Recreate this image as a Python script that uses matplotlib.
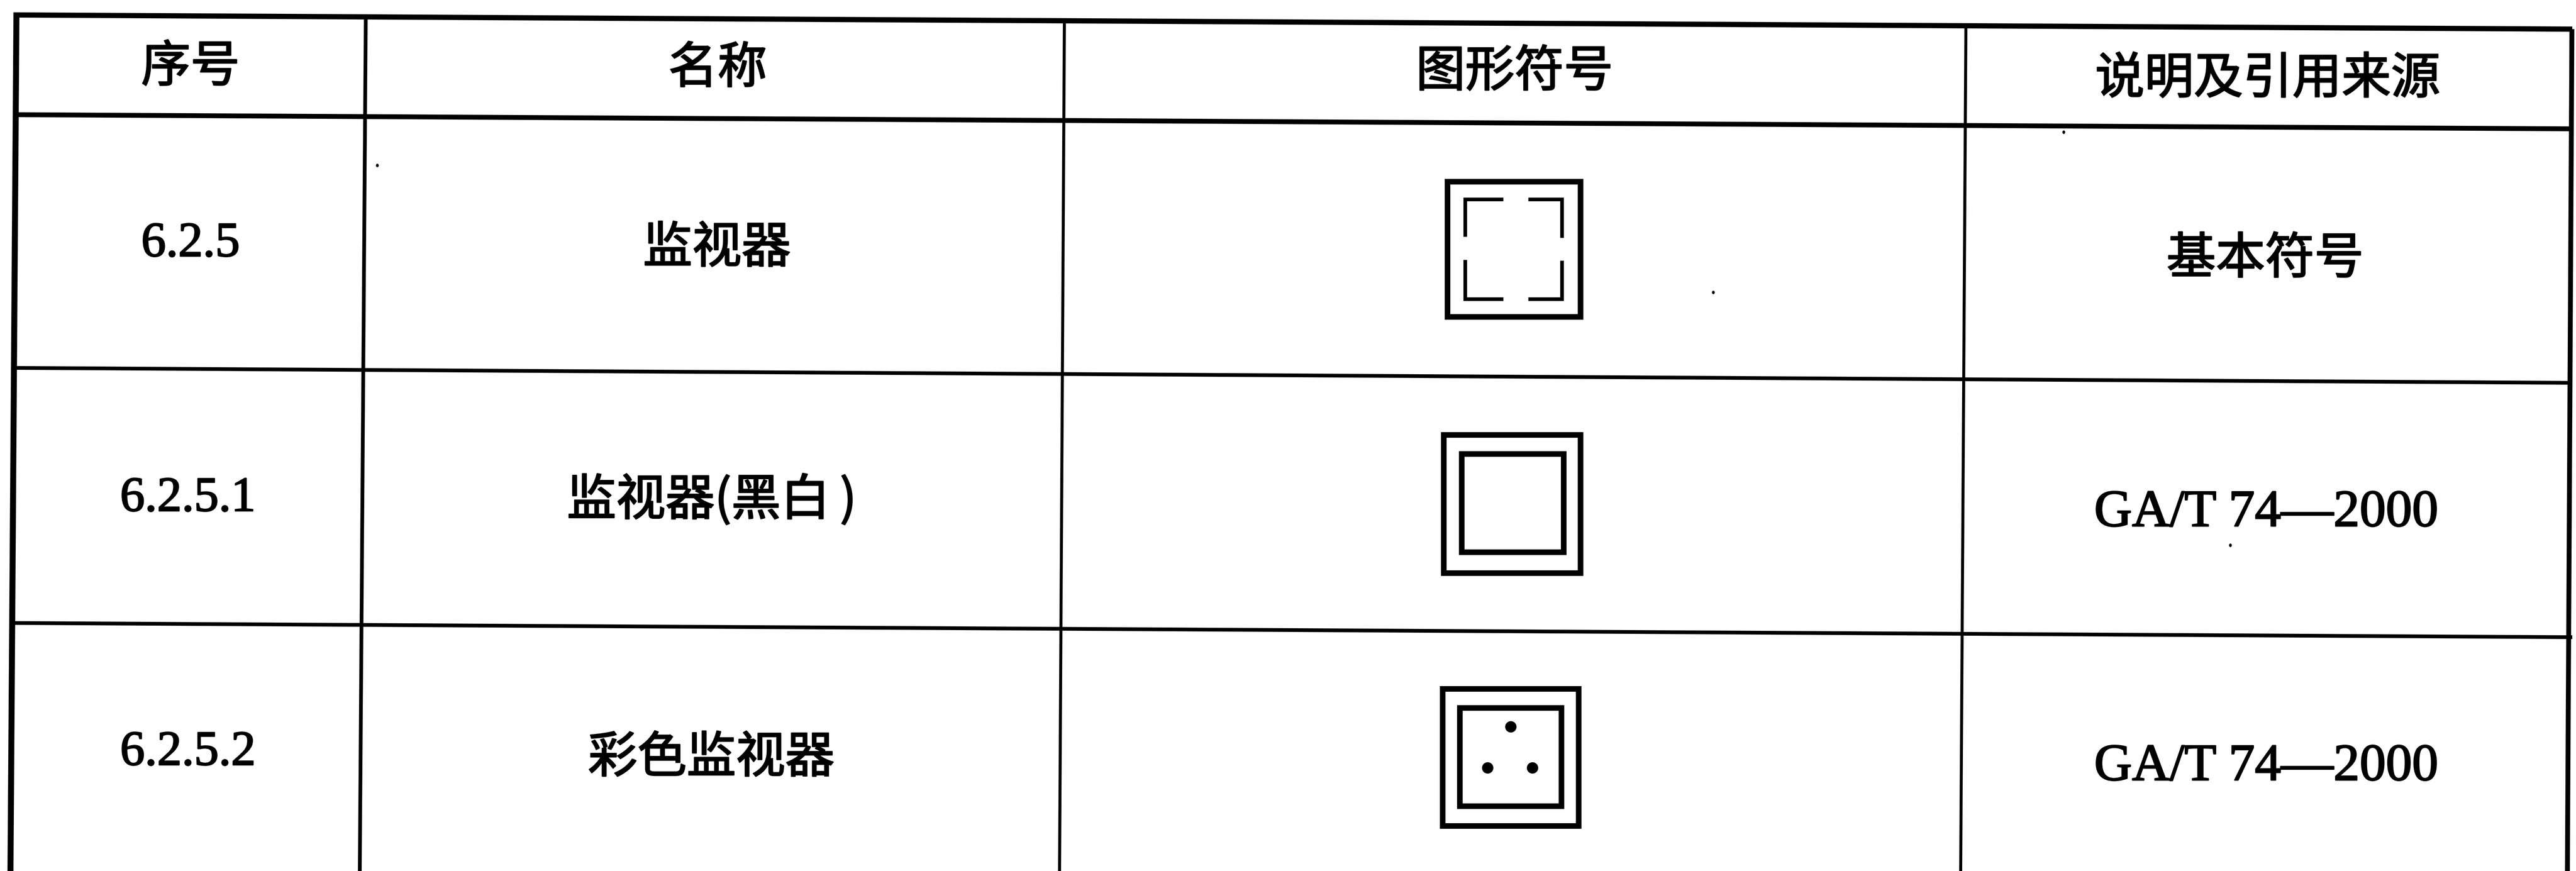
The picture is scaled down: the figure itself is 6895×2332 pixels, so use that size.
import matplotlib
matplotlib.use("Agg")
import matplotlib.patheffects as pe
import matplotlib.pyplot as plt
from matplotlib.patches import Ellipse, Rectangle

WIDTH, HEIGHT = 6895, 2332

CJK = ["Noto Sans CJK SC", "Liberation Serif", "DejaVu Sans"]
SERIF = ["Liberation Serif", "Noto Sans CJK SC"]

headers = ["序号", "名称", "图形符号", "说明及引用来源"]
numbers = ["6.2.5", "6.2.5.1", "6.2.5.2"]
names = ["监视器", "监视器(黑白\u2009)", "彩色监视器"]
sources = ["基本符号", "GA/T 74—2000", "GA/T 74—2000"]

# the scan is slightly rotated so the rules are not quite level
h_rules = [
    ((40, 40), (6885, 78), 14),
    ((40, 307), (6885, 345), 13),
    ((40, 985), (6885, 1025), 10),
    ((40, 1668), (6885, 1706), 10),
]
v_rules = [
    ((44, 33), (28, 2332), 16),
    ((979, 48), (963, 2332), 10),
    ((2849, 60), (2836, 2332), 8),
    ((5262, 70), (5248, 2332), 8),
    ((6884, 78), (6872, 2332), 13),
]

header_xy = [(510, 180), (1921, 184), (4054, 193), (6070, 212)]
number_xy = [(510, 654), (503, 1336), (503, 2016)]
name_xy = [(1919, 665), (1905, 1340), (1904, 2030)]
source_xy = [(6063, 694), (6066, 1375), (6066, 2055)]

specks = [(1010, 443), (4586, 783), (5970, 1460), (5524, 354)]


def box(ax, x0, y0, x1, y1, lw=15):
    ax.add_patch(Rectangle((x0, y0), x1 - x0, y1 - y0, fill=False, ec="black", lw=lw * 0.72, joinstyle="miter"))


def main():
    fig = plt.figure(figsize=(WIDTH / 100, HEIGHT / 100), dpi=100)
    ax = fig.add_axes([0, 0, 1, 1])
    ax.set_xlim(0, WIDTH)
    ax.set_ylim(HEIGHT, 0)
    ax.axis("off")

    for (a, b, lw) in h_rules + v_rules:
        ax.plot([a[0], b[0]], [a[1], b[1]], color="black", lw=lw * 0.72, solid_capstyle="butt")

    # scan makes the print look heavier than the regular weights
    heavy = [pe.withStroke(linewidth=2.5, foreground="black")]

    for text, (x, y) in zip(headers, header_xy):
        ax.text(x, y, text, family=CJK, fontsize=95, ha="center", va="center", path_effects=heavy)
    for text, (x, y) in zip(numbers, number_xy):
        ax.text(x, y, text, family=SERIF, fontsize=95, ha="center", va="center", path_effects=heavy)
    for text, (x, y) in zip(names, name_xy):
        ax.text(x, y, text, family=CJK, fontsize=95, ha="center", va="center", path_effects=heavy)
    for text, (x, y) in zip(sources, source_xy):
        fam = SERIF if text.startswith("GA") else CJK
        size = 101 if text.startswith("GA") else 95
        ax.text(x, y, text, family=fam, fontsize=size, ha="center", va="center", path_effects=heavy)

    # symbol 6.2.5: outer box with four corner brackets
    box(ax, 3874, 486, 4230, 848)
    brackets = [
        ([4024, 3922, 3922], [534, 534, 634]),
        ([4091, 4181, 4181], [534, 534, 637]),
        ([3922, 3922, 4024], [696, 801, 801]),
        ([4181, 4181, 4091], [698, 801, 801]),
    ]
    for xs, ys in brackets:
        ax.plot(xs, ys, color="black", lw=7, solid_capstyle="butt", solid_joinstyle="miter")

    # symbol 6.2.5.1
    box(ax, 3864, 1164, 4230, 1534)
    box(ax, 3912, 1215, 4185, 1478)

    # symbol 6.2.5.2
    box(ax, 3861, 1844, 4225, 2211)
    box(ax, 3907, 1895, 4179, 2158)
    for x, y in [(4044, 1946), (3982, 2056), (4102, 2056)]:
        ax.add_patch(Ellipse((x, y), 29, 29, color="black"))

    for x, y in specks:
        ax.add_patch(Ellipse((x, y), 6, 8, color="black"))

    fig.savefig("out.png", dpi=100, facecolor="white")


if __name__ == "__main__":
    main()
